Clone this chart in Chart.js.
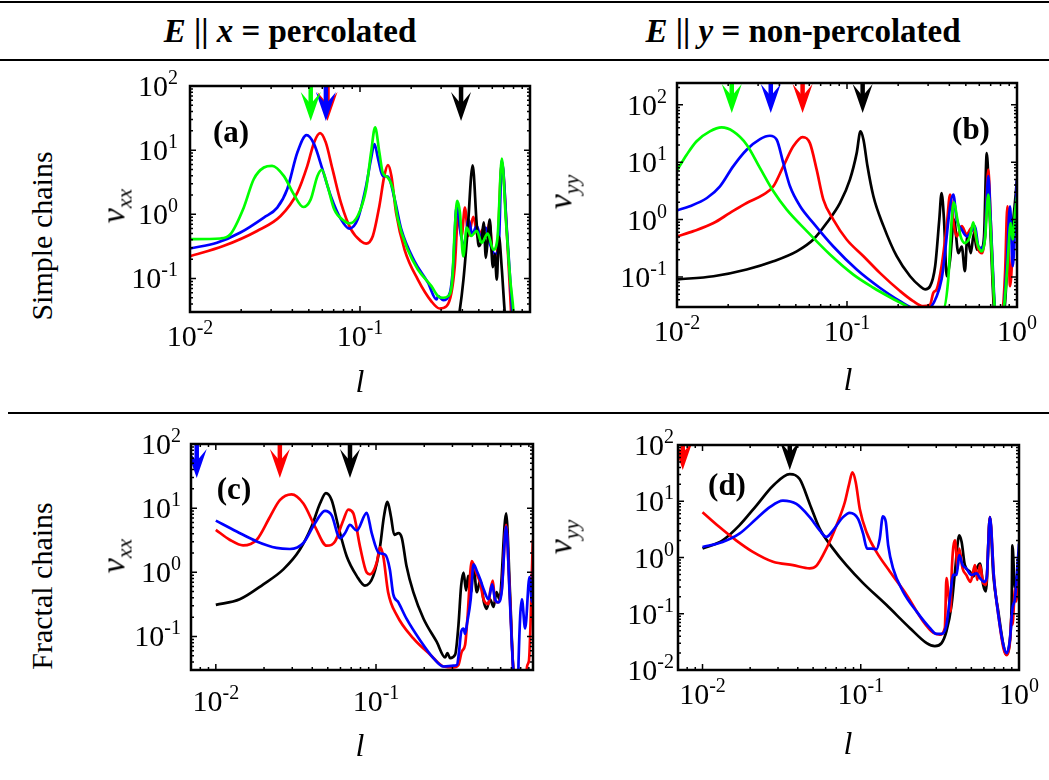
<!DOCTYPE html>
<html>
<head>
<meta charset="utf-8">
<script src="https://cdn.jsdelivr.net/npm/chart.js@4.4.0/dist/chart.umd.min.js"></script>
<style>
body { margin:0; background:#fff; width:1049px; height:780px; position:relative; overflow:hidden;
       font-family:"Liberation Serif","Times New Roman",serif; color:#000; }
.rule { position:absolute; left:0; width:1049px; height:2px; background:#000; }
.t { position:absolute; white-space:nowrap; line-height:1; transform:translate(-50%,-50%); }
.rot { transform:translate(-50%,-50%) rotate(-90deg); }
.head { font-size:33px; font-weight:bold; }
.row { font-size:30px; }
.ax { font-size:34px; }
.ax sub { font-size:22px; font-style:italic; vertical-align:-7px; }
.pl { font-size:31px; font-weight:bold; }
.lx { font-size:32px; font-style:italic; }
canvas { position:absolute; }
</style>
</head>
<body>
<canvas id="pa"></canvas>
<canvas id="pb"></canvas>
<canvas id="pc"></canvas>
<canvas id="pd"></canvas>

<div class="rule" style="top:1px"></div>
<div class="rule" style="top:59px"></div>
<div class="rule" style="top:412px;left:8px;width:1041px"></div>

<div class="t head" style="left:290px;top:31px"><i>E</i> || <i>x</i> = percolated</div>
<div class="t head" style="left:803px;top:31px"><i>E</i> || <i>y</i> = non-percolated</div>

<div class="t rot row" style="left:42px;top:236px">Simple chains</div>
<div class="t rot row" style="left:42px;top:586px">Fractal chains</div>

<div class="t rot ax" style="left:116px;top:206px"><i>ν</i><sub>xx</sub></div>
<div class="t rot ax" style="left:563px;top:192px"><i>ν</i><sub>yy</sub></div>
<div class="t rot ax" style="left:116px;top:556px"><i>ν</i><sub>xx</sub></div>
<div class="t rot ax" style="left:563px;top:537px"><i>ν</i><sub>yy</sub></div>

<div class="t lx" style="left:360px;top:381px">l</div>
<div class="t lx" style="left:848px;top:379px">l</div>
<div class="t lx" style="left:360px;top:745px">l</div>
<div class="t lx" style="left:848px;top:743px">l</div>

<div class="t pl" style="left:231px;top:131px">(a)</div>
<div class="t pl" style="left:971px;top:128px">(b)</div>
<div class="t pl" style="left:234px;top:488px">(c)</div>
<div class="t pl" style="left:727px;top:484px">(d)</div>

<script>
// (a) nu_xx, simple chains — [l, nu]
const aGreen = [[0.0100,0.41],[0.0151,0.42],[0.0173,0.49],[0.0207,1.27],[0.0237,3.52],[0.0272,5.36],[0.0304,5.69],
  [0.0356,3.97],[0.0408,2.05],[0.0464,1.30],[0.0513,1.71],[0.0562,3.97],[0.0596,4.93],[0.0644,2.77],[0.0705,1.20],
  [0.0807,0.79],[0.0864,0.72],[0.0969,0.94],[0.1086,2.46],[0.1162,9.2],[0.1227,22.6],[0.130,9.2],[0.136,4.48],
  [0.1458,3.74],[0.156,2.46],[0.167,0.84],[0.191,0.28],[0.219,0.138],[0.263,0.076],[0.288,0.053],[0.308,0.050],
  [0.330,0.053],[0.349,0.096],[0.361,0.58],[0.373,1.62],[0.387,1.06],[0.405,0.22],[0.424,0.62],[0.450,0.46],
  [0.486,0.55],[0.520,0.36],[0.564,0.50],[0.609,0.28],[0.644,0.43],[0.683,7.41],[0.721,0.84],[0.765,0.096],
  [0.80,0.029],[0.81,0.015]];
const aBlue = [[0.0100,0.294],[0.0144,0.36],[0.0198,0.52],[0.0272,0.89],[0.0326,1.27],[0.0373,2.46],[0.0428,9.2],
  [0.0485,17.1],[0.0537,12.4],[0.0601,5.05],[0.0673,1.93],[0.0772,0.84],[0.0864,0.60],[0.0969,0.84],[0.1086,2.77],
  [0.116,7.2],[0.1216,12.4],[0.128,7.2],[0.136,3.97],[0.146,3.88],[0.160,1.71],[0.175,0.58],[0.209,0.187],
  [0.251,0.086],[0.282,0.047],[0.288,0.053],[0.308,0.046],[0.338,0.060],[0.353,0.156],[0.370,1.35],[0.393,0.46],
  [0.414,0.32],[0.434,0.84],[0.458,0.49],[0.486,0.66],[0.515,0.43],[0.549,0.62],[0.582,0.34],[0.623,0.24],
  [0.653,0.28],[0.683,6.8],[0.731,0.58],[0.776,0.053],[0.80,0.015]];
const aRed = [[0.0100,0.223],[0.0157,0.32],[0.0248,0.55],[0.0341,0.94],[0.0428,2.18],[0.0490,5.69],[0.0537,13.2],
  [0.0582,18.4],[0.0629,13.2],[0.0689,5.05],[0.0772,1.52],[0.0885,0.58],[0.1014,0.38],[0.1086,0.35],[0.119,0.46],
  [0.130,1.35],[0.139,3.97],[0.146,5.83],[0.153,3.97],[0.163,1.06],[0.183,0.28],[0.219,0.096],[0.263,0.044],
  [0.294,0.034],[0.323,0.037],[0.345,0.060],[0.361,0.156],[0.378,0.94],[0.396,0.46],[0.414,1.27],[0.434,0.46],
  [0.464,0.91],[0.497,0.41],[0.524,0.57],[0.557,0.45],[0.577,0.74],[0.609,0.187],[0.638,0.223],[0.683,6.4],
  [0.731,0.52],[0.78,0.02]];
const aBlack = [[0.375,0.02],[0.385,0.03],[0.406,0.096],[0.43,0.58],[0.46,5.8],[0.485,0.75],[0.499,0.32],[0.52,0.41],
  [0.534,0.75],[0.55,0.21],[0.564,0.41],[0.58,0.83],[0.604,0.15],[0.62,0.237],[0.638,0.096],[0.656,0.45],
  [0.683,0.138],[0.71,0.03],[0.73,0.015]];
const aArrowL = { red:0.0644, blue:0.063, green:0.0513, black:0.393 };

// (b) nu_yy, simple chains
const bGreen = [[0.0100,7.2],[0.0114,13.5],[0.0130,23.0],[0.0156,34.4],[0.0183,40.3],[0.0214,34.4],[0.0257,20.2],
  [0.0308,7.9],[0.0369,3.11],[0.0442,1.49],[0.058,0.63],[0.0794,0.246],[0.109,0.110],[0.143,0.065],[0.188,0.041],
  [0.224,0.031],[0.246,0.025],[0.369,0.028],[0.394,0.091],[0.413,1.0],[0.426,2.0],[0.446,1.0],[0.466,0.51],
  [0.494,0.39],[0.529,0.51],[0.553,0.90],[0.584,0.39],[0.620,0.28],[0.648,0.45],[0.678,2.72],[0.700,0.67],
  [0.732,0.046],[0.75,0.02],[0.80,0.02],[0.840,0.031],[0.878,0.154],[0.918,0.87],[0.944,0.45],[0.973,1.31],[1.0,2.5]];
const bBlue = [[0.0100,1.45],[0.0119,1.71],[0.0150,2.38],[0.0179,3.80],[0.0214,8.47],[0.0257,16.5],[0.0308,25.3],
  [0.0352,28.9],[0.0386,24.6],[0.0422,9.7],[0.0462,3.80],[0.0530,1.71],[0.0634,0.87],[0.0831,0.34],[0.114,0.135],
  [0.156,0.065],[0.205,0.038],[0.245,0.029],[0.30,0.028],[0.337,0.046],[0.360,0.091],[0.422,2.72],[0.442,1.0],
  [0.473,0.67],[0.506,0.51],[0.541,0.63],[0.566,0.77],[0.593,0.34],[0.620,0.32],[0.648,0.51],[0.678,5.7],
  [0.700,1.0],[0.732,0.053],[0.75,0.02],[0.83,0.025],[0.869,0.154],[0.910,1.71],[0.944,0.154],[0.977,1.0],[1.0,4.96]];
const bRed = [[0.0100,0.51],[0.0125,0.63],[0.0164,0.87],[0.0205,1.31],[0.0257,1.95],[0.0322,2.72],[0.0369,3.80],
  [0.0422,8.47],[0.0483,18.9],[0.0548,27.4],[0.0605,21.5],[0.0663,7.41],[0.0726,2.23],[0.0831,1.0],[0.0995,0.45],
  [0.125,0.23],[0.156,0.118],[0.205,0.057],[0.245,0.038],[0.281,0.031],[0.308,0.033],[0.322,0.053],[0.337,0.061],
  [0.360,0.154],[0.386,0.77],[0.404,2.72],[0.426,0.77],[0.442,0.51],[0.473,0.77],[0.506,0.55],[0.541,0.72],
  [0.566,0.59],[0.593,0.30],[0.623,0.26],[0.648,0.51],[0.678,7.4],[0.700,1.0],[0.732,0.041],[0.75,0.02],
  [0.82,0.025],[0.851,0.118],[0.878,1.71],[0.910,0.069],[0.951,0.45],[0.995,2.23]];
const bBlack = [[0.0100,0.091],[0.0164,0.103],[0.0257,0.135],[0.0369,0.188],[0.0506,0.28],[0.0634,0.45],[0.0759,0.87],
  [0.0910,1.95],[0.104,4.96],[0.114,14.4],[0.120,34.4],[0.125,24.6],[0.132,8.47],[0.143,2.55],[0.164,0.77],
  [0.196,0.23],[0.235,0.103],[0.269,0.069],[0.288,0.061],[0.308,0.069],[0.330,0.154],[0.349,1.0],[0.360,2.91],
  [0.372,1.0],[0.386,0.103],[0.404,0.20],[0.426,1.0],[0.452,0.26],[0.473,0.34],[0.494,0.126],[0.51,0.51],
  [0.535,0.26],[0.558,0.59],[0.58,0.30],[0.62,0.32],[0.64,0.51],[0.664,14.4],[0.688,1.71],[0.72,0.069],
  [0.74,0.02],[0.84,0.025],[0.89,0.34],[0.95,1.0],[1.0,5.0]];
const bArrowL = { green:0.0210, blue:0.0356, red:0.0548, black:0.1236 };

// (c) nu_xx, fractal chains
const cRed = [[0.0100,4.59],[0.0122,3.22],[0.0148,2.63],[0.0180,3.22],[0.0218,7.36],[0.0251,13.3],[0.0297,16.4],
  [0.0352,11.8],[0.0416,5.16],[0.0492,2.60],[0.0555,3.03],[0.0625,6.5],[0.0671,9.5],[0.0722,8.3],[0.0794,2.54],
  [0.0875,0.99],[0.0917,0.93],[0.101,1.41],[0.106,2.48],[0.111,1.78],[0.119,0.49],[0.135,0.213],[0.171,0.093],
  [0.218,0.052],[0.264,0.034],[0.304,0.033],[0.327,0.036],[0.343,0.058],[0.360,0.074],[0.372,0.189],[0.396,1.49],
  [0.426,0.93],[0.447,0.69],[0.469,0.38],[0.504,0.32],[0.515,0.49],[0.536,0.74],[0.553,0.36],[0.578,0.34],
  [0.610,0.55],[0.649,5.5],[0.68,0.62],[0.72,0.03],[0.76,0.015],[0.87,0.018],[0.875,0.033],[0.90,0.041],[0.953,3.2]];
const cBlack = [[0.0100,0.31],[0.0141,0.38],[0.0198,0.65],[0.0264,1.11],[0.0335,2.26],[0.0396,5.16],[0.0447,11.8],
  [0.0487,17.2],[0.0529,13.3],[0.0582,5.16],[0.0656,1.78],[0.0757,0.88],[0.0853,0.62],[0.0962,0.88],[0.106,2.54],
  [0.112,7.36],[0.118,12.5],[0.124,7.36],[0.130,3.84],[0.138,4.07],[0.145,3.41],[0.155,1.25],[0.171,0.49],
  [0.198,0.189],[0.239,0.083],[0.270,0.047],[0.279,0.055],[0.290,0.046],[0.312,0.052],[0.327,0.149],[0.340,0.62],
  [0.352,0.99],[0.365,0.52],[0.376,0.88],[0.392,0.49],[0.406,1.25],[0.426,0.49],[0.447,0.74],[0.472,0.34],
  [0.49,0.27],[0.515,0.38],[0.542,0.29],[0.565,0.49],[0.59,0.38],[0.649,8.3],[0.686,0.49],[0.72,0.03],[0.77,0.015]];
const cBlue = [[0.0100,6.38],[0.0135,4.32],[0.0180,3.03],[0.0239,2.40],[0.0290,2.31],[0.0352,2.86],[0.0416,5.81],
  [0.0480,9.1],[0.0528,7.8],[0.0596,3.41],[0.0640,4.07],[0.0688,5.47],[0.0757,4.48],[0.0875,8.47],[0.0940,4.07],
  [0.104,2.01],[0.114,1.89],[0.122,1.11],[0.128,0.46],[0.138,0.34],[0.155,0.189],[0.188,0.088],[0.228,0.046],
  [0.264,0.034],[0.304,0.035],[0.32,0.036],[0.330,0.058],[0.34,0.118],[0.352,0.133],[0.36,0.11],[0.37,0.16],
  [0.39,0.38],[0.406,1.33],[0.426,1.05],[0.447,0.78],[0.469,0.55],[0.504,0.38],[0.531,0.65],[0.553,0.38],
  [0.578,0.34],[0.61,0.52],[0.649,5.16],[0.686,0.34],[0.72,0.029],[0.77,0.015],[0.776,0.041],[0.814,0.38],
  [0.853,0.133],[0.908,0.84],[0.94,0.35],[0.96,1.24]];
const cArrowL = { blue:0.0076, red:0.0251, black:0.0688 };

// (d) nu_yy, fractal chains
const dBlack = [[0.0100,1.44],[0.0134,2.02],[0.0171,3.72],[0.0219,8.39],[0.0279,18.9],[0.0356,30.4],[0.0411,24.8],
  [0.0476,8.97],[0.0550,3.25],[0.0668,1.44],[0.0811,0.73],[0.1035,0.35],[0.145,0.144],[0.204,0.056],[0.261,0.030],
  [0.294,0.0265],[0.324,0.030],[0.348,0.049],[0.375,0.144],[0.394,0.56],[0.419,2.48],[0.434,1.89],[0.455,0.73],
  [0.490,0.56],[0.514,0.46],[0.540,0.64],[0.567,0.78],[0.594,0.325],[0.618,0.25],[0.655,5.2],[0.688,0.49],
  [0.740,0.11],[0.796,0.028],[0.828,0.019],[0.869,0.028],[0.899,0.165],[0.908,1.65],[0.944,0.28],[1.0,1.0]];
const dRed = [[0.0100,6.4],[0.0128,3.48],[0.0163,2.02],[0.0208,1.26],[0.0279,0.84],[0.0373,0.73],[0.0476,0.64],
  [0.0524,0.71],[0.0606,1.44],[0.0702,3.72],[0.0793,9.6],[0.0844,20.2],[0.0886,32.5],[0.0930,21.6],[0.0986,7.3],
  [0.1086,2.84],[0.1256,1.26],[0.153,0.56],[0.195,0.216],[0.248,0.073],[0.287,0.046],[0.316,0.0426],[0.340,0.056],
  [0.348,0.43],[0.36,0.19],[0.37,0.11],[0.375,0.49],[0.394,2.02],[0.41,0.64],[0.419,1.44],[0.44,0.64],[0.464,0.49],
  [0.494,0.37],[0.527,0.73],[0.545,0.4],[0.567,0.73],[0.594,0.35],[0.62,0.33],[0.655,5.2],[0.695,0.43],[0.74,0.096],
  [0.796,0.025],[0.836,0.0184],[0.873,0.028],[0.90,0.096],[0.91,0.064],[0.944,0.28],[0.96,0.165],[1.0,1.1]];
const dBlue = [[0.0100,1.54],[0.0134,1.89],[0.0171,2.65],[0.0219,4.88],[0.0266,7.84],[0.0322,10.3],[0.0392,8.97],
  [0.0476,5.22],[0.0550,3.04],[0.0606,2.32],[0.0668,3.04],[0.0773,5.22],[0.0851,6.22],[0.0962,4.88],[0.1035,2.65],
  [0.1097,1.44],[0.117,1.44],[0.1256,1.40],[0.1318,2.16],[0.138,5.4],[0.144,4.26],[0.149,1.65],[0.160,0.64],
  [0.185,0.248],[0.225,0.11],[0.273,0.056],[0.301,0.0438],[0.324,0.0438],[0.348,0.064],[0.37,0.248],[0.383,0.49],
  [0.403,0.49],[0.419,1.10],[0.44,0.73],[0.464,0.64],[0.50,0.49],[0.54,0.52],[0.567,0.43],[0.60,0.37],[0.624,0.43],
  [0.655,5.2],[0.695,0.43],[0.74,0.096],[0.796,0.028],[0.836,0.020],[0.873,0.032],[0.91,0.126],[0.944,0.19],[1.0,1.77]];
const dArrowL = { red:0.0075, black:0.0356 };

const COLORS = { red:'#ff0000', blue:'#0000ff', green:'#00ff00', black:'#000000' };

// axis decades that carry a 10^n label
const aXDec = [-2, -1], aYDec = [-1, 0, 1, 2];
const bXDec = [-2, -1, 0], bYDec = [-1, 0, 1, 2];
const cXDec = [-2, -1], cYDec = [-1, 0, 1, 2];
const dXDec = [-2, -1, 0], dYDec = [-2, -1, 0, 1, 2];

const panels = [
  { id:'pa', box:[190, 86, 530, 312], xr:[0.01, 1], yr:[0.03, 100],
    series:{ green:aGreen, black:aBlack, blue:aBlue, red:aRed }, arrows:aArrowL,
    xDec:aXDec, yDec:aYDec, arrowLen:35, xDrop:34, yGap:12 },
  { id:'pb', box:[677, 83, 1017, 307], xr:[0.01, 1], yr:[0.03, 240],
    series:{ green:bGreen, blue:bBlue, red:bRed, black:bBlack }, arrows:bArrowL,
    xDec:bXDec, yDec:bYDec, arrowLen:30, xDrop:34, yGap:10 },
  { id:'pc', box:[191, 444, 533, 670], xr:[0.007, 0.955], yr:[0.03, 100],
    series:{ blue:cBlue, red:cRed, black:cBlack }, arrows:cArrowL,
    xDec:cXDec, yDec:cYDec, arrowLen:34, xDrop:41, yGap:10 },
  { id:'pd', box:[678, 445, 1019, 670], xr:[0.007, 1], yr:[0.01, 100],
    series:{ blue:dBlue, red:dRed, black:dBlack }, arrows:dArrowL,
    xDec:dXDec, yDec:dYDec, arrowLen:25, xDrop:34, yGap:4 }
];

const PAD = { left:125, top:20, right:28, bottom:62 };
const BASE_FONT = '30px "Liberation Serif"', EXP_FONT = '20px "Liberation Serif"';

function drawPow(ctx, x, baseline, exp, align) {
  ctx.font = BASE_FONT;
  const w1 = ctx.measureText('10').width;
  ctx.font = EXP_FONT;
  const w2 = ctx.measureText(String(exp)).width;
  const x0 = align === 'center' ? x - (w1 + w2) / 2 : x - (w1 + w2);
  ctx.fillStyle = '#000';
  ctx.textAlign = 'left';
  ctx.textBaseline = 'alphabetic';
  ctx.font = BASE_FONT;
  ctx.fillText('10', x0, baseline);
  ctx.font = EXP_FONT;
  ctx.fillText(String(exp), x0 + w1, baseline - 12);
}

function drawArrow(ctx, x, top, tip, color) {
  ctx.strokeStyle = color;
  ctx.fillStyle = color;
  ctx.lineWidth = 4.5;
  ctx.beginPath();
  ctx.moveTo(x, top);
  ctx.lineTo(x, tip - 14);
  ctx.stroke();
  ctx.beginPath();
  ctx.moveTo(x, tip);
  ctx.lineTo(x - 10, tip - 29);
  ctx.lineTo(x, tip - 17);
  ctx.lineTo(x + 10, tip - 29);
  ctx.closePath();
  ctx.fill();
}

const framePlugin = {
  id: 'frame',
  afterDraw(chart, args, opts) {
    const ctx = chart.ctx, a = chart.chartArea;
    const xs = chart.scales.x, ys = chart.scales.y;
    const p = opts.panel;
    ctx.save();

    // markers hanging from the top of the box
    ctx.save();
    ctx.beginPath();
    ctx.rect(a.left, a.top, a.right - a.left, a.bottom - a.top);
    ctx.clip();
    Object.keys(p.arrows).forEach(k => {
      drawArrow(ctx, xs.getPixelForValue(p.arrows[k]), a.top, a.top + p.arrowLen, COLORS[k]);
    });
    ctx.restore();

    // box
    ctx.strokeStyle = '#000';
    ctx.lineWidth = 2.5;
    ctx.strokeRect(a.left, a.top, a.right - a.left, a.bottom - a.top);

    // inward log ticks on all four sides
    ctx.lineWidth = 1.5;
    ctx.beginPath();
    const eachTick = (scale, fn) => {
      const lo = Math.floor(Math.log10(scale.min)), hi = Math.ceil(Math.log10(scale.max));
      for (let d = lo; d <= hi; d++) {
        for (let k = 1; k <= 9; k++) {
          const v = k * Math.pow(10, d);
          if (v < scale.min * 1.001 || v > scale.max * 0.999) continue;
          fn(scale.getPixelForValue(v), k === 1 ? 6 : 3);
        }
      }
    };
    eachTick(xs, (px, len) => {
      ctx.moveTo(px, a.bottom); ctx.lineTo(px, a.bottom - len);
      ctx.moveTo(px, a.top); ctx.lineTo(px, a.top + len);
    });
    eachTick(ys, (py, len) => {
      ctx.moveTo(a.left, py); ctx.lineTo(a.left + len, py);
      ctx.moveTo(a.right, py); ctx.lineTo(a.right - len, py);
    });
    ctx.stroke();

    // 10^n labels
    p.xDec.forEach(n => drawPow(ctx, xs.getPixelForValue(Math.pow(10, n)), a.bottom + p.xDrop, n, 'center'));
    p.yDec.forEach(n => drawPow(ctx, a.left - p.yGap, ys.getPixelForValue(Math.pow(10, n)) + 10, n, 'right'));
    ctx.restore();
  }
};

panels.forEach(p => {
  const [l, t, r, b] = p.box;
  const cv = document.getElementById(p.id);
  const w = r - l + PAD.left + PAD.right, h = b - t + PAD.top + PAD.bottom;
  cv.width = w; cv.height = h;
  cv.style.left = (l - PAD.left) + 'px';
  cv.style.top = (t - PAD.top) + 'px';
  cv.style.width = w + 'px';
  cv.style.height = h + 'px';

  const datasets = Object.keys(p.series).map(k => ({
    label: k,
    data: p.series[k],
    borderColor: COLORS[k],
    borderWidth: 2.7,
    pointRadius: 0,
    fill: false,
    cubicInterpolationMode: 'monotone'
  }));

  new Chart(cv.getContext('2d'), {
    type: 'line',
    data: { datasets: datasets },
    options: {
      responsive: false,
      animation: false,
      devicePixelRatio: 1,
      layout: { padding: PAD },
      plugins: { legend: { display: false }, tooltip: { enabled: false }, frame: { panel: p } },
      scales: {
        x: { type: 'logarithmic', min: p.xr[0], max: p.xr[1], display: false },
        y: { type: 'logarithmic', min: p.yr[0], max: p.yr[1], display: false }
      }
    },
    plugins: [framePlugin]
  });
});
</script>
</body>
</html>
